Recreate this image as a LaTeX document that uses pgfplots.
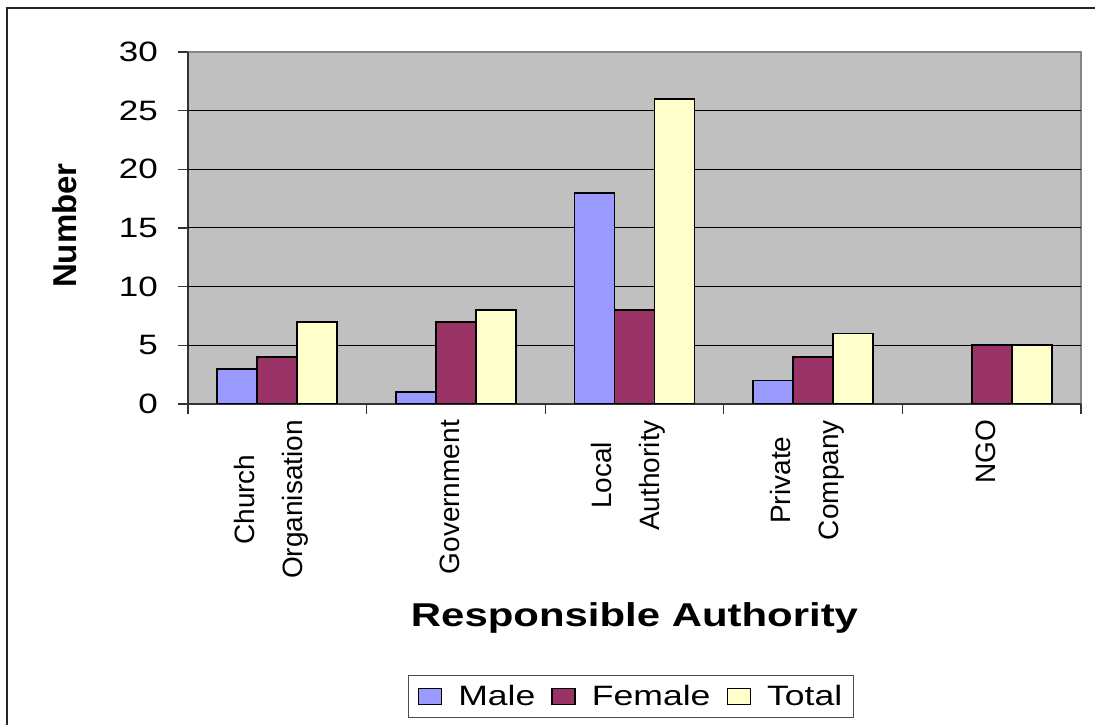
\documentclass[border=0pt]{standalone}
\usepackage{fontspec}
\setmainfont{Liberation Sans}
\usepackage{graphicx}
\usepackage{pgfplots}
\pgfplotsset{compat=1.18}

\definecolor{plotbg}{HTML}{C0C0C0}
\definecolor{framegray}{HTML}{858585}
\definecolor{malec}{HTML}{9999FF}
\definecolor{femalec}{HTML}{993366}
\definecolor{totalc}{HTML}{FFFFCC}

\pgfplotsset{
  sq legend/.style={legend image code/.code={%
      \draw[##1, line width=1.6pt] (0pt,-8pt) rectangle (23pt,8pt);}},
}

\begin{document}
\begin{tikzpicture}[x=1pt,y=1pt]
\path[use as bounding box, clip] (0,0) rectangle (1095,725);
% outer chart frame
\draw[line width=1.6pt, black!85] (7,-20) -- (7,717) -- (1120,717);
\begin{axis}[
  at={(188pt,321pt)}, anchor=south west,
  scale only axis, width=893pt, height=352pt,
  ybar=0pt, bar width=40pt,
  xmin=-0.5, xmax=4.5, ymin=0, ymax=30,
  axis x line=bottom, axis y line=left,
  axis line style={-, black!80, line width=1.4pt},
  axis background/.style={fill=plotbg, draw=framegray, line width=1.8pt},
  tick align=outside, major tick length=10pt,
  tick style={black!80, line width=1.2pt},
  % category boundaries carry the tick marks
  xtick={-0.5,0.5,...,4.5}, xticklabels={},
  extra x ticks={0,1,2,3,4},
  extra x tick labels={{Church\\Organisation},Government,{Local\\Authority},{Private\\Company},NGO},
  extra x tick style={major tick length=0pt,
    xticklabel style={rotate=90, anchor=east, align=center,
      inner ysep=0pt, inner xsep=16pt, yshift=6pt,
      font=\fontsize{28}{48}\selectfont}},
  ytick={0,5,...,30},
  yticklabel={\scalebox{1.25}[1]{\pgfmathprintnumber{\tick}}},
  yticklabel style={font=\fontsize{28}{30}\selectfont, inner xsep=0pt, xshift=-20pt, anchor=east},
  /pgf/number format/assume math mode=true,
  extra y ticks={5,10,...,25}, extra y tick labels={},
  extra y tick style={ymajorgrids=true, major tick length=0pt},
  grid style={black, line width=1pt},
  xlabel={\scalebox{1.27}[1]{Responsible Authority}},
  xlabel style={font=\bfseries\fontsize{33}{36}\selectfont,
    at={(axis description cs:0.5,-0.6335)}, anchor=base},
  ylabel={Number},
  ylabel style={font=\bfseries\fontsize{33}{36}\selectfont,
    at={(axis description cs:-0.1377,0.507)}, anchor=center},
  legend columns=3,
  legend style={at={(axis description cs:0.496,-0.831)}, anchor=center,
    draw=black!70, line width=1.2pt,
    inner xsep=9pt, inner ysep=8pt,
    font=\fontsize{28}{30}\selectfont,
    /tikz/every odd column/.append style={column sep=14pt},
    /tikz/every even column/.append style={column sep=14pt}},
]
\addplot[fill=malec, draw=black, line width=1.8pt, sq legend]
  coordinates {(0,3) (1,1) (2,18) (3,2)};
\addlegendentry{\scalebox{1.27}[1]{Male}}
\addplot[fill=femalec, draw=black, line width=1.8pt, sq legend]
  coordinates {(0,4) (1,7) (2,8) (3,4) (4,5)};
\addlegendentry{\scalebox{1.27}[1]{Female}}
\addplot[fill=totalc, draw=black, line width=1.8pt, sq legend]
  coordinates {(0,7) (1,8) (2,26) (3,6) (4,5)};
\addlegendentry{\scalebox{1.27}[1]{Total}}
\end{axis}
\end{tikzpicture}
\end{document}
